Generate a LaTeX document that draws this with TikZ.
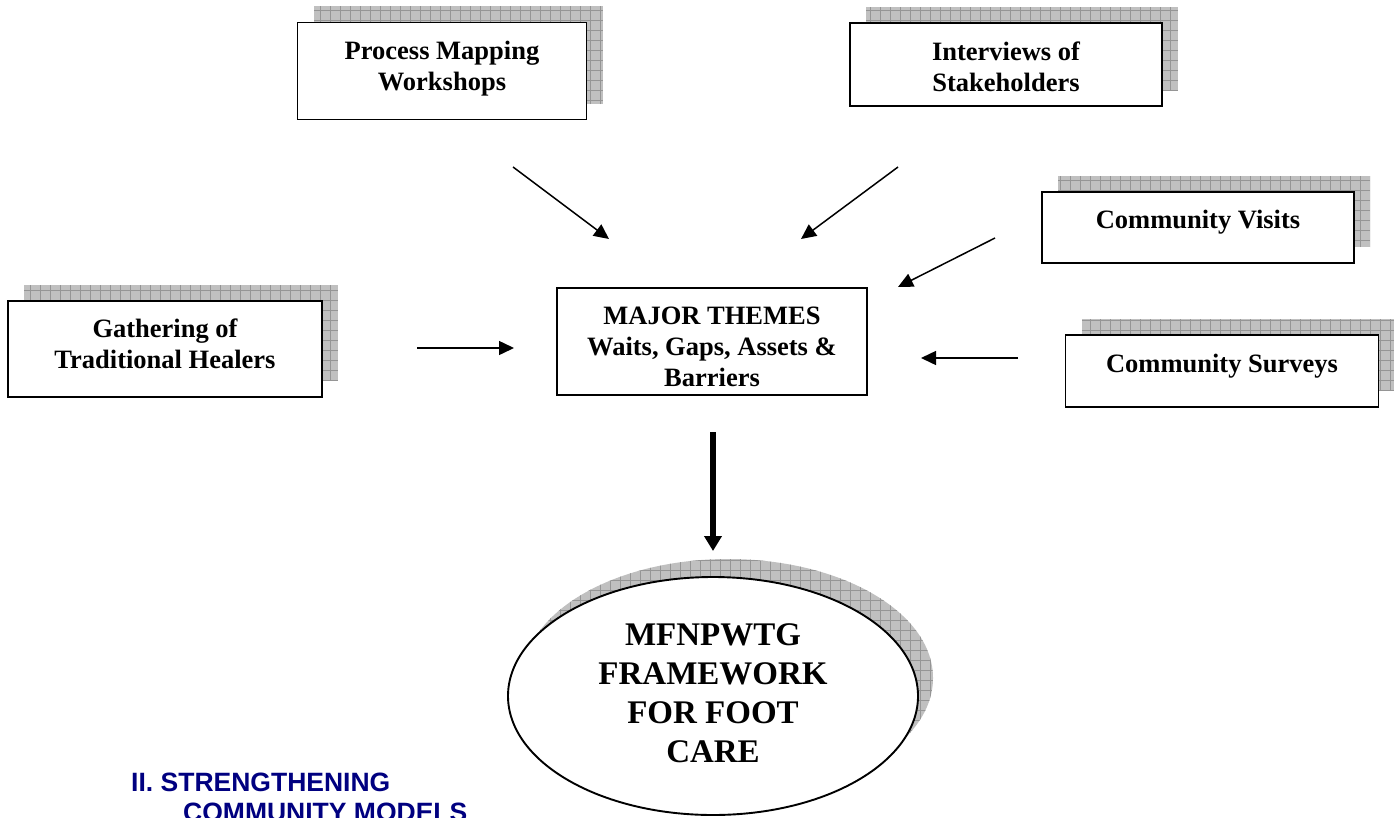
\documentclass[tikz,border=0pt]{standalone}
\usepackage{fontspec}
\setmainfont{Liberation Serif}
\newfontfamily\headsans{Liberation Sans}
\usetikzlibrary{arrows.meta,shapes.geometric}
\definecolor{headblue}{HTML}{000080}
\definecolor{shfill}{HTML}{C0C0C0}
\definecolor{shline}{HTML}{959595}
\newcommand\shadowrect[4]{%
  \begin{scope}
    \clip (#1,#2) rectangle (#3,#4);
    \fill[shfill] (#1,#2) rectangle (#3,#4);
    \draw[shline, line width=0.7pt, step=10pt] (#1,#2) grid (#3,#4);
  \end{scope}}
\begin{document}
\begin{tikzpicture}[x=1pt,y=-1pt,
  box/.style={draw, line width=1.9pt, fill=white, inner sep=0pt},
  txt/.style={align=center, font=\fontsize{26.5}{31}\selectfont\bfseries, inner sep=0pt},
  big/.style={align=center, font=\fontsize{33}{39}\selectfont\bfseries, inner sep=0pt},
  head/.style={anchor=base west, inner sep=0pt, text=headblue, font=\headsans\fontsize{26.5}{30}\selectfont\bfseries},
  arr/.style={line width=1.5pt, -{Triangle[length=15pt,width=14pt]}},
  thick arr/.style={line width=5.5pt, -{Triangle[length=15pt,width=17pt]}}]
\useasboundingbox (0,0) rectangle (1396,817);
\fill[white] (0,0) rectangle (1396,817);

% shadows
\shadowrect{314}{6}{603}{104}
\shadowrect{866}{7}{1178}{90}
\shadowrect{1058}{176}{1370}{247}
\shadowrect{24}{285}{338}{380}
\shadowrect{1082}{319}{1394}{391}
\begin{scope}
  \clip (728,678) ellipse [x radius=205, y radius=119];
  \fill[shfill] (500,550) rectangle (940,800);
  \draw[shline, line width=0.7pt, step=10pt] (500,550) grid (940,800);
\end{scope}

% boxes
\node[box, minimum width=289pt, minimum height=97pt] (pm) at (442,71) {};
\node[txt] (pmt) at (442,69) {Process Mapping\\Workshops};
\node[box, minimum width=312pt, minimum height=83pt] (iv) at (1006,64.5) {};
\node[txt] (ivt) at (1006,67) {Interviews of\\Stakeholders};
\node[box, minimum width=312pt, minimum height=71pt] (cv) at (1198,227.5) {};
\node[txt] (cvt) at (1198,222) {Community Visits};
\node[box, minimum width=314pt, minimum height=96pt] (gt) at (165,349) {};
\node[txt] (gtt) at (165,344) {Gathering of\\Traditional Healers};
\node[box, minimum width=310pt, minimum height=107pt] (mt) at (712,341.5) {};
\node[txt] (mtt) at (712,347) {MAJOR THEMES\\Waits, Gaps, Assets \&\\Barriers};
\node[box, minimum width=313pt, minimum height=72pt] (cs) at (1222,371) {};
\node[txt] (cst) at (1222,366) {Community Surveys};

% ellipse
\node[box, ellipse, minimum width=410pt, minimum height=238pt] (fw) at (713,696) {};
\node[big] (fwt) at (713,693) {MFNPWTG\\FRAMEWORK\\FOR FOOT\\CARE};

% arrows
\coordinate (a1s) at (513,167); \coordinate (a1e) at (609,239);
\coordinate (a2s) at (898,167); \coordinate (a2e) at (801,239);
\coordinate (a3s) at (995,238); \coordinate (a3e) at (898,287);
\coordinate (a4s) at (417,348); \coordinate (a4e) at (514,348);
\coordinate (a5s) at (1018,358); \coordinate (a5e) at (921,358);
\coordinate (a6s) at (713,432); \coordinate (a6e) at (713,551);
\draw[arr] (a1s) -- (a1e);
\draw[arr] (a2s) -- (a2e);
\draw[arr] (a3s) -- (a3e);
\draw[arr] (a4s) -- (a4e);
\draw[arr] (a5s) -- (a5e);
\draw[thick arr] (a6s) -- (a6e);

% heading (cut off at the lower edge, as in the reference)
\node[head] (h1) at (131,791) {II. STRENGTHENING};
\node[head] (h2) at (183,821) {COMMUNITY MODELS};
\end{tikzpicture}
\end{document}
